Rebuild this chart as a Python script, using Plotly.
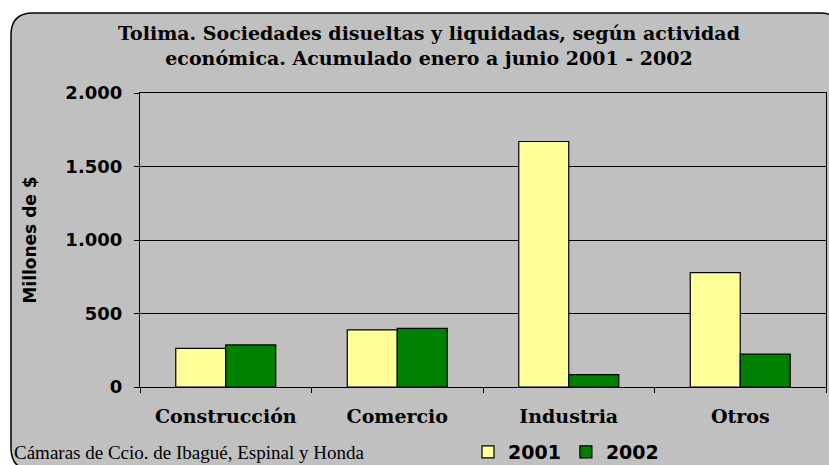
import plotly.graph_objects as go

categories = ["Construcción", "Comercio", "Industria", "Otros"]
values_2001 = [263, 388, 1670, 778]
values_2002 = [286, 399, 84, 224]
y_ticks = [0, 500, 1000, 1500, 2000]
y_tick_labels = ["0", "500", "1.000", "1.500", "2.000"]

W, H = 829, 465
L, R, T, B = 140, 829 - 826, 93, 465 - 387
pw, ph = W - L - R, H - T - B

def px(x):
    return (x - L) / pw

def py(y):
    return (H - B - y) / ph

# rounded chart-area frame (extends past the right and bottom edges)
x0, y0, x1, y1, r = 11, 13, 842, 470, 22
path = (
    f"M {px(x0)},{py(y0 + r)} "
    f"Q {px(x0)},{py(y0)} {px(x0 + r)},{py(y0)} "
    f"L {px(x1 - r)},{py(y0)} "
    f"Q {px(x1)},{py(y0)} {px(x1)},{py(y0 + r)} "
    f"L {px(x1)},{py(y1 - r)} "
    f"Q {px(x1)},{py(y1)} {px(x1 - r)},{py(y1)} "
    f"L {px(x0 + r)},{py(y1)} "
    f"Q {px(x0)},{py(y1)} {px(x0)},{py(y1 - r)} Z"
)

fig = go.Figure()
fig.add_trace(go.Bar(x=categories, y=values_2001, name="2001",
                     marker=dict(color="#FFFF99", line=dict(color="black", width=1.2))))
fig.add_trace(go.Bar(x=categories, y=values_2002, name="2002",
                     marker=dict(color="#008000", line=dict(color="black", width=1.2))))

fig.update_layout(
    width=W, height=H,
    margin=dict(l=L, r=R, t=T, b=B, autoexpand=False),
    paper_bgcolor="white",
    plot_bgcolor="white",
    barmode="group",
    bargap=0.417,
    bargroupgap=0,
    title=dict(
        text="Tolima. Sociedades disueltas y liquidadas, según actividad<br>económica. Acumulado enero a junio 2001 - 2002",
        x=429 / W, xanchor="center", y=1 - 40 / H, yanchor="middle",
        font=dict(family="DejaVu Serif", size=19, color="black", weight="bold"),
    ),
    shapes=[dict(type="path", path=path, xref="paper", yref="paper",
                 fillcolor="#C0C0C0", line=dict(color="black", width=1.5), layer="below")],
    showlegend=True,
    legend=dict(orientation="h", x=px(468), y=py(452), xanchor="left", yanchor="middle",
                bgcolor="rgba(0,0,0,0)", font=dict(family="DejaVu Sans", size=19, color="black", weight="bold"),
                itemwidth=30, tracegroupgap=0),
    annotations=[dict(text="Cámaras de Ccio. de Ibagué, Espinal y Honda", xref="paper", yref="paper",
                      x=px(12), y=py(452), xanchor="left", yanchor="middle", showarrow=False,
                      font=dict(family="Liberation Serif", size=19, color="black"))],
)

fig.update_xaxes(
    type="category", showline=True, mirror=True, linecolor="black", linewidth=1.2,
    ticks="outside", tickson="boundaries", ticklen=5, tickcolor="black", tickwidth=1.2,
    tickfont=dict(family="DejaVu Serif", size=19, color="black", weight="bold"),
    ticklabelstandoff=12,
    showgrid=False,
)
fig.update_yaxes(
    range=[0, 2000], tickvals=y_ticks, ticktext=y_tick_labels,
    showline=True, mirror=True, linecolor="black", linewidth=1.2,
    ticks="outside", ticklen=5, tickcolor="black", tickwidth=1.2,
    ticklabelstandoff=8,
    showgrid=True, gridcolor="black", gridwidth=1,
    tickfont=dict(family="DejaVu Sans", size=18, color="black", weight="bold"),
    title=dict(text="Millones de $", standoff=24,
               font=dict(family="DejaVu Sans", size=17, color="black", weight="bold")),
    zeroline=False,
)

fig.write_html("out.html", config={"displayModeBar": False},
               post_script="document.body.style.margin='0px';document.body.style.overflow='hidden';")
